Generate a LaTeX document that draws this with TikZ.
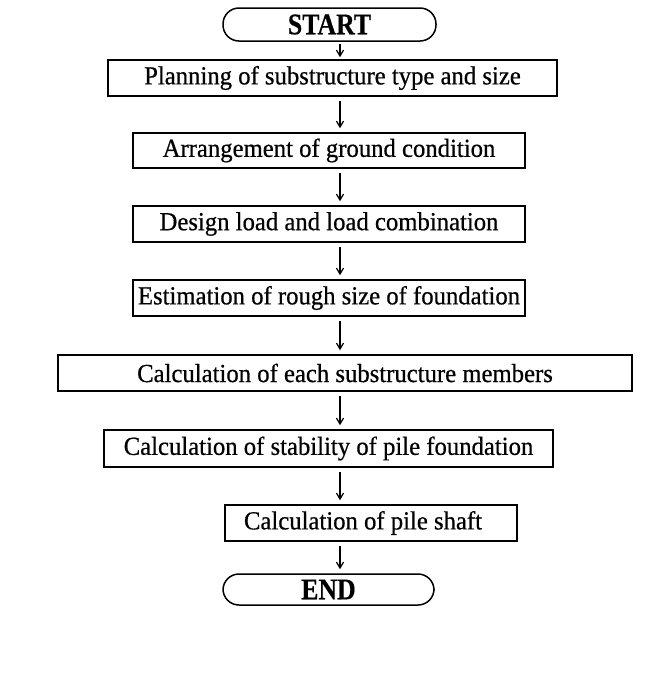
\documentclass[tikz,border=0pt]{standalone}
\usepackage{fontspec}
\setmainfont{Liberation Serif}
\newfontfamily\boxfont[FakeStretch=0.95,FakeBold=0.6]{Liberation Serif}
\newfontfamily\termfont[FakeStretch=0.86,FakeBold=0.4]{Liberation Serif Bold}
\usetikzlibrary{arrows.meta}
\begin{document}
\begin{tikzpicture}[x=1pt,y=-1pt,
  stepbox/.style={draw,line width=1.5pt,inner sep=0pt,font=\boxfont\fontsize{26}{30}\selectfont},
  term/.style={draw,line width=1.5pt,rounded corners=16pt,inner sep=0pt,font=\termfont\fontsize{30}{32}\selectfont},
  flow/.style={line width=1.2pt,-{Straight Barb[length=6pt,width=7pt]},shorten <=4pt,shorten >=4pt}]
\useasboundingbox (0,0) rectangle (651,681);
% terminals
\node[term,minimum width=213pt,minimum height=33pt] (start) at (329.5,24.5) {START};
\node[term,minimum width=211pt,minimum height=31pt] (end) at (328.5,589.5) {END};
% process steps
\node[stepbox,minimum width=449pt,minimum height=36pt] (b1) at (332.5,78) {Planning of substructure type and size};
\node[stepbox,minimum width=392pt,minimum height=35pt] (b2) at (329,150.5) {Arrangement of ground condition};
\node[stepbox,minimum width=392pt,minimum height=36pt] (b3) at (329,224) {Design load and load combination};
\node[stepbox,minimum width=392pt,minimum height=36pt] (b4) at (329,298) {Estimation of rough size of foundation};
\node[stepbox,minimum width=574pt,minimum height=36pt] (b5) at (345,373) {Calculation of each substructure members};
\node[stepbox,minimum width=449pt,minimum height=37pt] (b6) at (328.5,448.5) {Calculation of stability of pile foundation};
\node[stepbox,minimum width=292pt,minimum height=36pt] (b7) at (371,523) {Calculation of pile shaft\hspace*{16pt}};
% connectors
\coordinate (ax) at (340,0);
\draw[flow,shorten <=2pt,shorten >=2pt] (start.south -| ax) -- (b1.north -| ax);
\foreach \a/\b in {b1/b2,b2/b3,b3/b4,b4/b5,b5/b6,b6/b7,b7/end}
  \draw[flow] (\a.south -| ax) -- (\b.north -| ax);
\end{tikzpicture}
\end{document}
